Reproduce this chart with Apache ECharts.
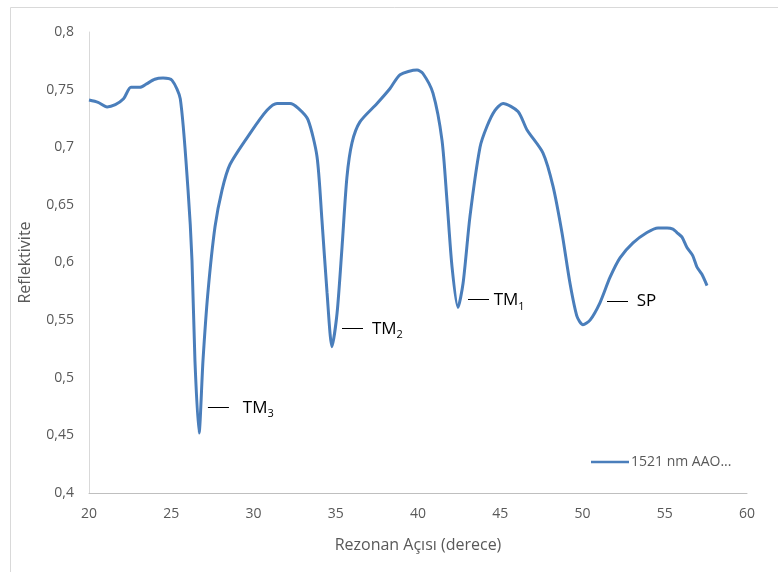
<!DOCTYPE html>
<html>
<head>
<meta charset="utf-8">
<script src="https://cdn.jsdelivr.net/npm/echarts@6/dist/echarts.min.js"></script>
<style>
  html, body { margin: 0; padding: 0; background: #fff; }
  #chart { width: 778px; height: 572px; }
</style>
</head>
<body>
<div id="chart"></div>
<script>
// resonance angle (deg) and reflectivity
const angles = [
    20, 20.55, 21.1, 21.6, 22.1, 22.55, 23.1, 23.5, 24.0, 24.5, 25.05, 25.55,
    26.02, 26.26, 26.44, 26.69, 26.93, 27.23, 27.66, 28.09, 28.57, 29.79, 30.82,
    31.43, 32.22, 32.71, 33.31, 33.86, 34.16, 34.47, 34.77, 35.08, 35.38, 35.68,
    35.99, 36.47, 37.51, 38.30, 38.91, 39.94, 40.30, 40.91, 41.46, 41.76, 42.07,
    42.43, 42.74, 43.16, 43.77, 44.19, 44.68, 45.17, 46.08, 46.63, 47.60, 48.21,
    48.75, 49.24, 49.67, 50.03, 50.46, 51.06, 51.67, 52.28, 53.07, 53.92, 54.59,
    55.14, 55.50, 55.74, 56.05, 56.35, 56.70, 56.96, 57.25, 57.57
];
const reflectivity = [
    0.741, 0.739, 0.735, 0.737, 0.742, 0.752, 0.752, 0.755, 0.759, 0.760, 0.758, 0.742,
    0.663, 0.602, 0.515, 0.452, 0.515, 0.574, 0.631, 0.663, 0.685, 0.712, 0.732,
    0.738, 0.738, 0.734, 0.724, 0.692, 0.637, 0.574, 0.527, 0.556, 0.613, 0.674,
    0.704, 0.722, 0.738, 0.751, 0.763, 0.767, 0.764, 0.747, 0.706, 0.654, 0.596,
    0.561, 0.582, 0.640, 0.700, 0.718, 0.732, 0.738, 0.731, 0.715, 0.695, 0.666,
    0.626, 0.582, 0.553, 0.546, 0.550, 0.565, 0.587, 0.604, 0.617, 0.626, 0.630,
    0.630, 0.629, 0.626, 0.622, 0.613, 0.606, 0.596, 0.590, 0.580
];

// mode labels: leader line start, text start (data units), name, subscript
const labelX = [27.23, 35.38, 43.04, 51.49];
const labelTextX = [29.35, 37.2, 44.6, 53.3];
const labelY = [0.4746, 0.543, 0.568, 0.567];
const labelName = ['TM', 'TM', 'TM', 'SP'];
const labelSub = ['3', '2', '1', ''];

const seriesName = '1521 nm AAO...';
const gray = '#595959';
const font = '"Open Sans", "Noto Sans", sans-serif';

const chart = echarts.init(document.getElementById('chart'));

chart.setOption({
    animation: false,
    grid: { left: 89, right: 31, top: 32, bottom: 79 },
    legend: {
        left: 586,
        top: 450,
        itemWidth: 38,
        itemHeight: 14,
        data: [{ name: seriesName, icon: 'path://M0,6h38v2.5h-38z' }],
        textStyle: { color: gray, fontSize: 14, fontFamily: font, padding: [0, 0, 0, -3] }
    },
    xAxis: {
        type: 'value',
        min: 20,
        max: 60,
        interval: 5,
        name: 'Rezonan Açısı (derece)',
        nameLocation: 'middle',
        nameGap: 44,
        nameTextStyle: { color: gray, fontSize: 16, fontFamily: font },
        axisLine: { lineStyle: { color: '#bfbfbf', width: 1 } },
        axisTick: { show: false },
        splitLine: { show: false },
        axisLabel: { color: gray, fontSize: 14, fontFamily: font, margin: 14 }
    },
    yAxis: {
        type: 'value',
        min: 0.4,
        max: 0.8,
        interval: 0.05,
        name: 'Reflektivite',
        nameLocation: 'middle',
        nameGap: 56,
        nameTextStyle: { color: gray, fontSize: 16, fontFamily: font },
        axisLine: { show: true, lineStyle: { color: '#d9d9d9', width: 1 } },
        axisTick: { show: false },
        splitLine: { show: false },
        axisLabel: {
            color: gray,
            fontSize: 14,
            fontFamily: font,
            margin: 15,
            formatter: v => String(Math.round(v * 100) / 100).replace('.', ',')
        }
    },
    series: [{
        name: seriesName,
        type: 'line',
        showSymbol: false,
        symbol: 'none',
        smooth: 0.25,
        lineStyle: { color: '#4a7ebb', width: 3 },
        itemStyle: { color: '#4a7ebb' },
        data: angles.map((a, i) => [a, reflectivity[i]])
    }]
});

// chart frame (only left and top edges show in the picture)
const graphics = [
    { type: 'line', shape: { x1: 10.5, y1: 7.5, x2: 778, y2: 7.5 }, style: { stroke: '#d9d9d9', lineWidth: 1 } },
    { type: 'line', shape: { x1: 10.5, y1: 7.5, x2: 10.5, y2: 572 }, style: { stroke: '#d9d9d9', lineWidth: 1 } }
];

labelX.forEach((x, i) => {
    const p = chart.convertToPixel({ gridIndex: 0 }, [x, labelY[i]]);
    const t = chart.convertToPixel({ gridIndex: 0 }, [labelTextX[i], labelY[i]]);
    const yy = Math.round(p[1]) + 0.5;
    graphics.push({
        type: 'line',
        shape: { x1: p[0], y1: yy, x2: p[0] + 21, y2: yy },
        style: { stroke: '#000', lineWidth: 1 }
    });
    graphics.push({
        type: 'text',
        x: t[0],
        y: p[1] + 1,
        style: {
            text: labelSub[i] ? '{m|' + labelName[i] + '}{s|' + labelSub[i] + '}' : '{m|' + labelName[i] + '}',
            verticalAlign: 'middle',
            rich: {
                m: { fontSize: 17, fontFamily: font, fill: '#000', lineHeight: 20 },
                s: { fontSize: 11, fontFamily: font, fill: '#000', padding: [12, 0, 0, 0], lineHeight: 20 }
            }
        }
    });
});

chart.setOption({ graphic: graphics });
</script>
</body>
</html>
